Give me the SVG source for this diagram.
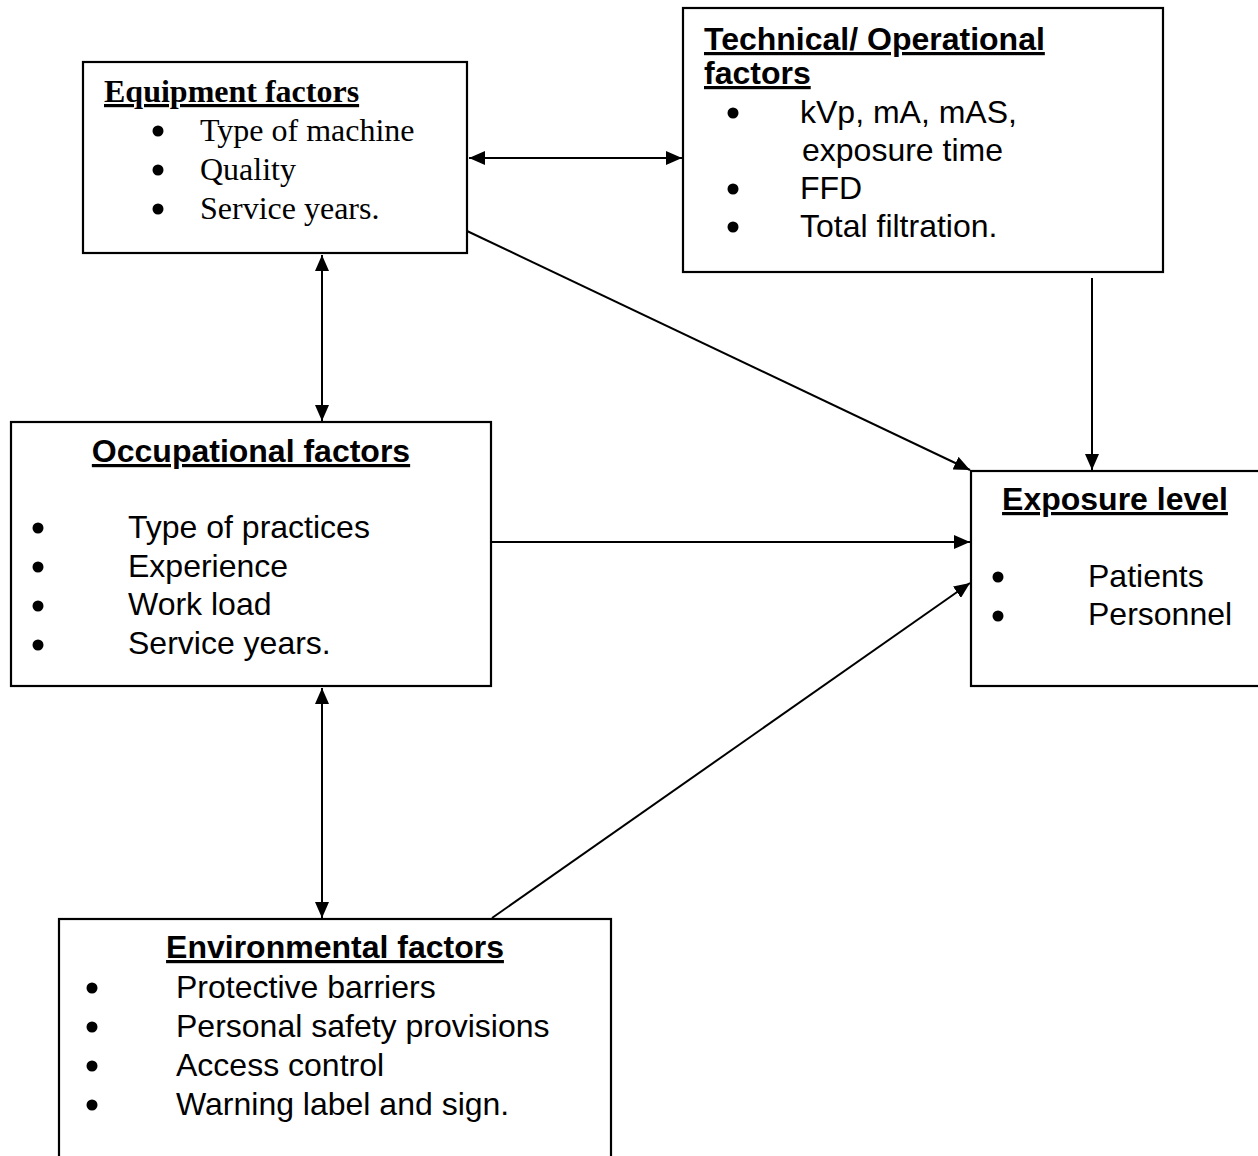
<svg xmlns="http://www.w3.org/2000/svg" width="1258" height="1156" viewBox="0 0 1258 1156">
<style>
.box{fill:#fff;stroke:#000;stroke-width:2.2}
.serif{font-family:"Liberation Serif","Times New Roman",serif;font-size:32px;fill:#000}
.sans{font-family:"Liberation Sans",Arial,sans-serif;font-size:32px;fill:#000}
.title{font-weight:bold;text-decoration:underline}
.c{stroke:#000;stroke-width:2;fill:none}
circle{fill:#000}
</style>
<defs>
<marker id="ah" viewBox="0 0 16 14" refX="16" refY="7" markerWidth="16" markerHeight="14" markerUnits="userSpaceOnUse" orient="auto-start-reverse">
<path d="M0,0 L16,7 L0,14 Z" fill="#000"/>
</marker>
</defs>
<rect width="1258" height="1156" fill="#fff"/>
<g id="connectors">
<line class="c" x1="469" y1="158" x2="682" y2="158" marker-start="url(#ah)" marker-end="url(#ah)"/>
<line class="c" x1="322" y1="255" x2="322" y2="421" marker-start="url(#ah)" marker-end="url(#ah)"/>
<line class="c" x1="322" y1="688" x2="322" y2="918" marker-start="url(#ah)" marker-end="url(#ah)"/>
<line class="c" x1="467" y1="231" x2="970" y2="470" marker-end="url(#ah)"/>
<line class="c" x1="1092" y1="278" x2="1092" y2="470" marker-end="url(#ah)"/>
<line class="c" x1="491" y1="542" x2="970" y2="542" marker-end="url(#ah)"/>
<line class="c" x1="492" y1="918" x2="970" y2="583" marker-end="url(#ah)"/>
</g>
<g id="equipment">
<rect class="box" x="83" y="62" width="384" height="191"/>
<text class="serif title" x="104" y="102">Equipment factors</text>
<circle cx="158" cy="131" r="5.5"/><text class="serif" x="200" y="141">Type of machine</text>
<circle cx="158" cy="170" r="5.5"/><text class="serif" x="200" y="180">Quality</text>
<circle cx="158" cy="209" r="5.5"/><text class="serif" x="200" y="219">Service years.</text>
</g>
<g id="technical">
<rect class="box" x="683" y="8" width="480" height="264"/>
<text class="sans title" x="704" y="50">Technical/ Operational</text>
<text class="sans title" x="704" y="84">factors</text>
<circle cx="733" cy="113" r="5.5"/><text class="sans" x="800" y="123">kVp, mA, mAS,</text>
<text class="sans" x="802" y="161">exposure time</text>
<circle cx="733" cy="189" r="5.5"/><text class="sans" x="800" y="199">FFD</text>
<circle cx="733" cy="227" r="5.5"/><text class="sans" x="800" y="237">Total filtration.</text>
</g>
<g id="occupational">
<rect class="box" x="11" y="422" width="480" height="264"/>
<text class="sans title" x="251" y="462" text-anchor="middle">Occupational factors</text>
<circle cx="38" cy="528" r="5.5"/><text class="sans" x="128" y="538">Type of practices</text>
<circle cx="38" cy="567" r="5.5"/><text class="sans" x="128" y="577">Experience</text>
<circle cx="38" cy="606" r="5.5"/><text class="sans" x="128" y="615">Work load</text>
<circle cx="38" cy="645" r="5.5"/><text class="sans" x="128" y="654">Service years.</text>
</g>
<g id="exposure">
<rect class="box" x="971" y="471" width="300" height="215"/>
<text class="sans title" x="1115" y="510" text-anchor="middle">Exposure level</text>
<circle cx="998" cy="577" r="5.5"/><text class="sans" x="1088" y="587">Patients</text>
<circle cx="998" cy="616" r="5.5"/><text class="sans" x="1088" y="625">Personnel</text>
</g>
<g id="environmental">
<rect class="box" x="59" y="919" width="552" height="260"/>
<text class="sans title" x="335" y="958" text-anchor="middle">Environmental factors</text>
<circle cx="92" cy="988" r="5.5"/><text class="sans" x="176" y="998">Protective barriers</text>
<circle cx="92" cy="1027" r="5.5"/><text class="sans" x="176" y="1037">Personal safety provisions</text>
<circle cx="92" cy="1066" r="5.5"/><text class="sans" x="176" y="1076">Access control</text>
<circle cx="92" cy="1105" r="5.5"/><text class="sans" x="176" y="1115">Warning label and sign.</text>
</g>
</svg>
